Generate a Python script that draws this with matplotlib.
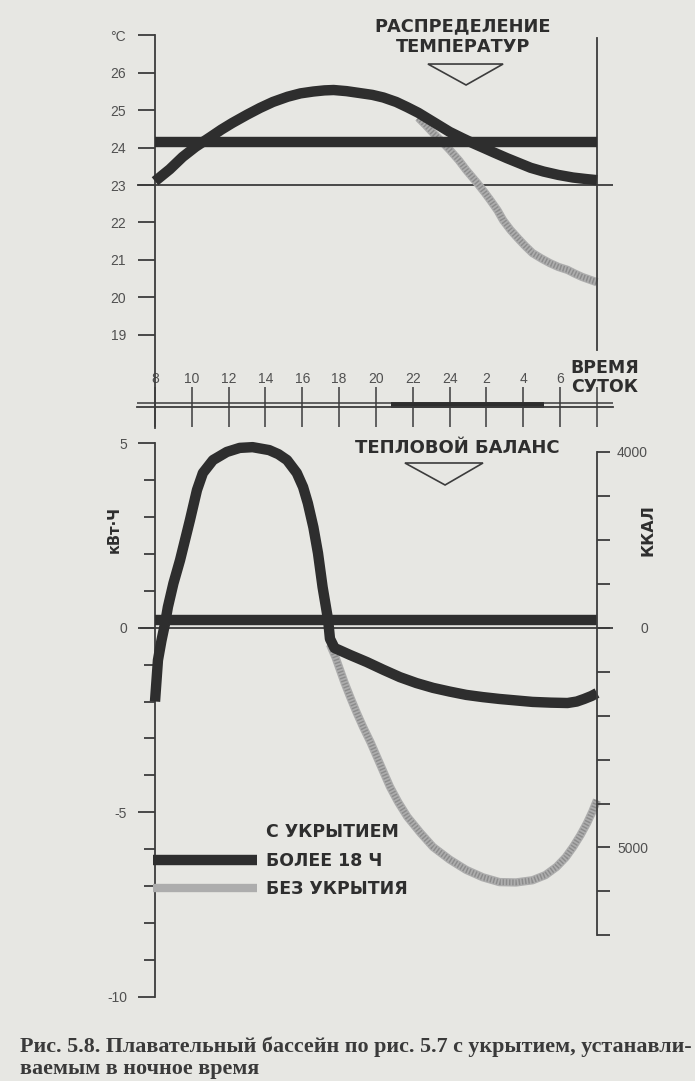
import matplotlib.pyplot as plt
from matplotlib.lines import Line2D
from matplotlib.patches import Polygon

plt.rcParams['font.family'] = ['Liberation Sans', 'DejaVu Sans']

# time of day, counted on from 8 a.m. (32 = 8 a.m. next morning)
hour_ticks = [8, 10, 12, 14, 16, 18, 20, 22, 24, 26, 28, 30, 32]
hour_labels = ['8', '10', '12', '14', '16', '18', '20', '22', '24', '2', '4', '6', '']
cover_on = 20.8
cover_off = 29.1

# temperature distribution, deg C
temp_hours = [8.0, 8.8, 9.5, 10.2, 11.0, 11.6, 12.2, 13.0, 13.7, 14.4, 15.2, 15.9, 16.6,
              17.2, 17.7, 18.4, 19.1, 19.8, 20.4, 21.1, 21.7, 22.3, 22.8, 23.4, 24.0,
              24.7, 25.3, 25.9, 26.4, 27.1, 27.7, 28.4, 29.1, 29.9, 30.7, 31.4, 32.0]
temp_covered = [23.1, 23.42, 23.75, 24.02, 24.28, 24.48, 24.66, 24.88, 25.06, 25.22, 25.36,
                25.45, 25.5, 25.53, 25.54, 25.51, 25.46, 25.41, 25.34, 25.22, 25.08, 24.93,
                24.78, 24.6, 24.42, 24.25, 24.11, 23.98, 23.87, 23.72, 23.6, 23.46, 23.36,
                23.27, 23.2, 23.16, 23.13]
temp_open_hours = [22.3, 22.7, 23.1, 23.5, 24.0, 24.5, 24.9, 25.5, 25.9, 26.2, 26.6, 26.9,
                   27.3, 27.7, 28.1, 28.5, 29.0, 29.45, 29.9, 30.4, 30.8, 31.2, 31.6, 32.0]
temp_open = [24.8, 24.6, 24.39, 24.2, 23.94, 23.66, 23.4, 23.05, 22.8, 22.6, 22.32, 22.06,
             21.8, 21.58, 21.37, 21.18, 21.03, 20.91, 20.81, 20.73, 20.63, 20.54, 20.47, 20.4]
temp_level = 24.15

# heat balance, kWh
heat_hours = [8.0, 8.16, 8.35, 8.54, 8.7, 9.0, 9.36, 9.9, 10.28, 10.6, 11.15, 11.9, 12.6,
              13.3, 14.2, 14.7, 15.17, 15.7, 16.04, 16.3, 16.6, 16.85, 17.1, 17.4, 17.5,
              17.75, 18.6, 19.5, 20.4, 21.3, 22.2, 23.1, 24.0, 24.9, 25.8, 26.7, 27.6,
              28.5, 29.5, 30.4, 30.9, 31.3, 31.7, 32.0]
heat_covered = [-2.0, -0.88, -0.35, 0.1, 0.56, 1.2, 1.83, 2.92, 3.73, 4.19, 4.54, 4.76,
                4.87, 4.89, 4.81, 4.7, 4.54, 4.19, 3.81, 3.37, 2.72, 2.02, 1.1, 0.21, -0.3,
                -0.55, -0.74, -0.93, -1.14, -1.34, -1.5, -1.63, -1.73, -1.82, -1.88, -1.93,
                -1.97, -2.01, -2.03, -2.04, -2.0, -1.93, -1.85, -1.77]
heat_open_hours = [17.5, 17.8, 18.05, 18.3, 18.6, 18.95, 19.3, 19.7, 20.05, 20.4, 20.76,
                   21.2, 21.7, 22.4, 23.1, 24.0, 24.9, 25.8, 26.7, 27.6, 28.5, 29.2, 29.8,
                   30.3, 30.7, 31.1, 31.46, 31.75, 32.0]
heat_open = [-0.45, -0.8, -1.15, -1.5, -1.88, -2.3, -2.69, -3.1, -3.5, -3.9, -4.31, -4.72,
             -5.12, -5.55, -5.94, -6.28, -6.56, -6.76, -6.89, -6.9, -6.84, -6.7, -6.48,
             -6.22, -5.94, -5.62, -5.29, -4.98, -4.67]
heat_level = 0.2

temp_ticks = [19, 20, 21, 22, 23, 24, 25, 26, 27]
temp_tick_labels = ['19', '20', '21', '22', '23', '24', '25', '26', '°C']
kwh_ticks = [5, 0, -5, -10]
kwh_tick_labels = ['5', '0', '-5', '-10']
kcal_ticks = [4000, 3000, 2000, 1000, 0, -1000, -2000, -3000, -4000, -5000, -6000, -7000]
kcal_tick_labels = ['4000', '', '', '', '0', '', '', '', '', '5000', '', '']
KCAL_PER_KWH = 840

paper = '#e7e7e3'
ink = '#2e2e2e'
axis_ink = '#3c3c3c'
label_ink = '#505050'
screen = '#adadad'
screen_dots = '#8c8c8c'
heading = {'family': ['DejaVu Sans'], 'weight': 'bold', 'color': ink}

W, H = 695, 1081
fig = plt.figure(figsize=(W / 100, H / 100), dpi=100, facecolor=paper)


def open_line(ax, x, y):
    # screened (halftone) curve: light body with a fine darker texture
    ax.plot(x, y, color=screen, lw=6, solid_capstyle='butt', solid_joinstyle='round', zorder=2)
    ax.plot(x, y, color=screen_dots, lw=4.2, dashes=(0.25, 0.3), zorder=2)


# ---------------- temperature distribution ----------------
ax_t = fig.add_axes([130 / W, 1 - 435 / H, 490 / W, 415 / H])
ax_t.patch.set_alpha(0)
ax_t.set_xlim(6.6425, 33.249)
ax_t.set_ylim(16.316, 27.412)

ax_t.hlines(23, 7.02, 32.87, color=axis_ink, lw=1.3, zorder=1)
ax_t.plot([hour_ticks[0], hour_ticks[-1]], [temp_level, temp_level], color=ink, lw=7.5,
          solid_capstyle='butt', zorder=3)
open_line(ax_t, temp_open_hours, temp_open)
ax_t.plot(temp_hours, temp_covered, color=ink, lw=7.5, solid_capstyle='butt',
          solid_joinstyle='round', zorder=4)

ax_t.spines['bottom'].set_visible(False)
ax_t.spines['left'].set_position(('data', 8))
ax_t.spines['left'].set_bounds(16.5, 27)
ax_t.spines['right'].set_position(('data', 32))
ax_t.spines['right'].set_bounds(18.6, 26.93)
# time axis: double line with the covered period filled in
ax_t.spines['top'].set_position(('data', 17.056))
ax_t.spines['top'].set_bounds(7.02, 32.87)
for s in ax_t.spines.values():
    s.set_color(axis_ink)
    s.set_linewidth(1.3)
ax_t.hlines(17.163, 7.02, 32.87, color=axis_ink, lw=1.1)
ax_t.hlines(17.11, cover_on, cover_off, color=ink, lw=4.2)

ax_t.xaxis.tick_top()
ax_t.set_xticks(hour_ticks, hour_labels)
ax_t.tick_params(axis='x', direction='inout', length=28.8, width=1.1, pad=1,
                 color=axis_ink, labelcolor=label_ink, labelsize=10)
ax_t.set_yticks(temp_ticks, temp_tick_labels)
ax_t.tick_params(axis='y', direction='out', length=12, width=1.3, pad=9,
                 color=axis_ink, labelcolor=label_ink, labelsize=10, right=False)

ax_t.text(24.72, 26.97, 'РАСПРЕДЕЛЕНИЕ\nТЕМПЕРАТУР', ha='center', va='center',
          fontsize=12.8, linespacing=1.22, **heading)
ax_t.add_patch(Polygon([(22.82, 26.235), (26.9, 26.235), (24.89, 25.674)], closed=True,
                       fill=False, edgecolor=axis_ink, lw=1.2))
ax_t.text(32.43, 17.85, 'ВРЕМЯ\nСУТОК', ha='center', va='center', fontsize=12.5,
          linespacing=1.08, **heading)

# ---------------- heat balance ----------------
ax_b = fig.add_axes([130 / W, 1 - 1005 / H, 490 / W, 569 / H])
ax_b.patch.set_alpha(0)
ax_b.set_xlim(6.6425, 33.249)
ax_b.set_ylim(-10.219, 5.192)

ax_b.hlines(0, 7.16, 32.87, color=axis_ink, lw=1.3, zorder=1)
ax_b.plot([hour_ticks[0], hour_ticks[-1]], [heat_level, heat_level], color=ink, lw=7.5,
          solid_capstyle='butt', zorder=3)
open_line(ax_b, heat_open_hours, heat_open)
ax_b.plot(heat_hours, heat_covered, color=ink, lw=7.5, solid_capstyle='butt',
          solid_joinstyle='round', zorder=4)

for side in ['top', 'bottom', 'right']:
    ax_b.spines[side].set_visible(False)
ax_b.spines['left'].set_position(('data', 8))
ax_b.spines['left'].set_bounds(-10, 5)
ax_b.spines['left'].set_color(axis_ink)
ax_b.spines['left'].set_linewidth(1.3)
ax_b.set_xticks([])
ax_b.set_yticks(kwh_ticks, kwh_tick_labels)
ax_b.set_yticks(range(-10, 6), minor=True)
ax_b.tick_params(axis='y', which='major', direction='out', length=12, width=1.3, pad=8,
                 color=axis_ink, labelcolor=label_ink, labelsize=10)
ax_b.tick_params(axis='y', which='minor', direction='out', length=8, width=1.3,
                 color=axis_ink)
ax_b.set_ylabel('кВт·Ч', fontsize=10.5, **heading)
ax_b.yaxis.set_label_coords(-0.016, 0.835)

ax_k = ax_b.twinx()
ax_k.set_ylim(ax_b.get_ylim()[0] * KCAL_PER_KWH, ax_b.get_ylim()[1] * KCAL_PER_KWH)
for side in ['top', 'bottom', 'left']:
    ax_k.spines[side].set_visible(False)
ax_k.spines['right'].set_position(('data', 32))
ax_k.spines['right'].set_bounds(-7000, 4000)
ax_k.spines['right'].set_color(axis_ink)
ax_k.spines['right'].set_linewidth(1.3)
ax_k.set_yticks(kcal_ticks, kcal_tick_labels)
ax_k.tick_params(axis='y', direction='out', length=9.4, width=1.3, pad=27.4,
                 color=axis_ink, labelcolor=label_ink, labelsize=10)
for lab in ax_k.get_yticklabels():
    lab.set_horizontalalignment('right')
ax_k.set_ylabel('ККАЛ', fontsize=11.5, **heading)
ax_k.yaxis.set_label_coords(1.041, 0.835)

ax_b.text(24.4, 4.87, 'ТЕПЛОВОЙ БАЛАНС', ha='center', va='center', fontsize=13,
          **heading)
ax_b.add_patch(Polygon([(21.57, 4.461), (25.81, 4.461), (23.75, 3.865)], closed=True,
                       fill=False, edgecolor=axis_ink, lw=1.2))

handles = [
    Line2D([], [], color='none'),
    Line2D([], [], color=ink, lw=7.5, solid_capstyle='butt'),
    Line2D([], [], color=screen, lw=6, solid_capstyle='butt'),
]
labels = ['С УКРЫТИЕМ', 'БОЛЕЕ 18 Ч', 'БЕЗ УКРЫТИЯ']
leg = ax_b.legend(handles, labels, loc='upper left', bbox_to_anchor=(0.047, 0.3195),
                  frameon=False, borderpad=0, borderaxespad=0, handlelength=6.0,
                  handletextpad=0.5, labelspacing=0.6,
                  prop={'family': 'DejaVu Sans', 'size': 12.5, 'weight': 'bold'})
for t in leg.get_texts():
    t.set_color(ink)

fig.text(20 / W, 1 - 1057.5 / H,
         'Рис. 5.8. Плавательный бассейн по рис. 5.7 с укрытием, устанавли-\n'
         'ваемым в ночное время',
         ha='left', va='center', fontsize=15.8, fontweight='bold', color='#3a3a3a',
         family=['Liberation Serif', 'DejaVu Serif'], linespacing=1.12)

fig.savefig('out.png', dpi=100, facecolor=paper)
